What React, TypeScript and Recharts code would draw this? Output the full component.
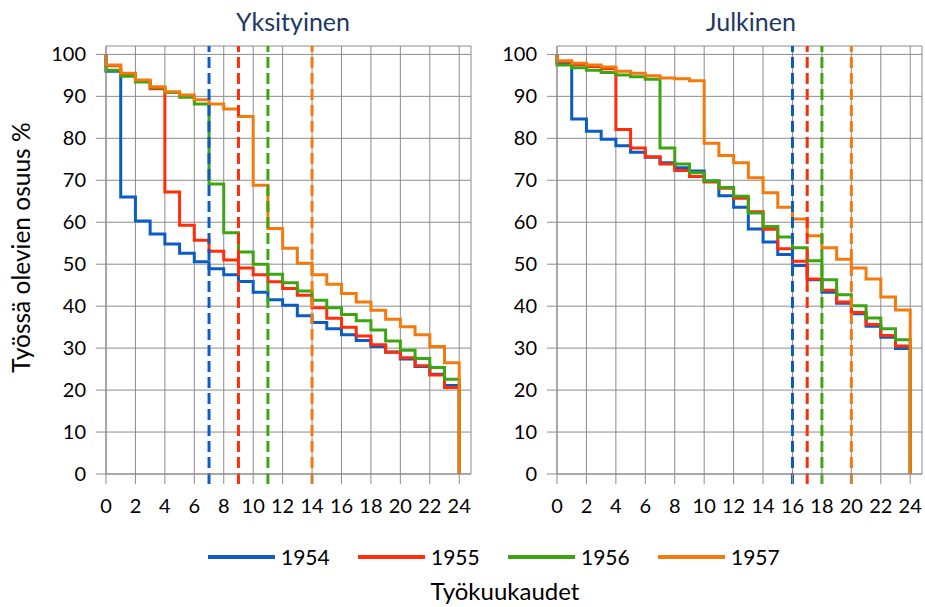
import { LineChart, Line, XAxis, YAxis, CartesianGrid, ReferenceLine } from 'recharts';

// share still at work (%) for each month interval [m, m+1), months 0..23
const years = ['1954', '1955', '1956', '1957'];
const colors = ['#0b5cc4', '#ff2d0a', '#3da512', '#f47a0e'];

const privateShare1954 = [96.0, 66.0, 60.3, 57.2, 54.8, 52.6, 50.6, 48.9, 47.5, 45.9, 43.3, 41.5, 40.2, 37.7, 36.1, 34.6, 33.2, 31.8, 30.4, 29.1, 27.4, 25.6, 23.8, 21.1];
const privateShare1955 = [97.3, 95.3, 93.6, 91.8, 67.2, 59.3, 55.7, 53.1, 51.0, 49.1, 47.5, 45.8, 44.2, 42.6, 39.6, 37.1, 35.0, 32.9, 30.8, 29.0, 27.7, 25.8, 23.6, 20.6];
const privateShare1956 = [96.2, 94.8, 93.4, 92.1, 90.9, 89.8, 88.2, 69.1, 57.5, 52.9, 50.0, 47.6, 45.6, 43.6, 41.4, 39.6, 38.0, 36.5, 34.3, 31.7, 29.5, 27.5, 25.4, 22.6];
const privateShare1957 = [97.5, 95.5, 93.9, 92.3, 91.1, 90.3, 89.2, 88.2, 87.0, 85.2, 68.8, 58.5, 53.8, 50.2, 47.5, 45.2, 43.0, 41.0, 39.0, 36.9, 35.1, 33.2, 30.4, 26.5];

const publicShare1954 = [97.8, 84.6, 81.7, 79.8, 78.2, 76.7, 75.5, 74.2, 73.0, 72.2, 69.8, 66.3, 63.6, 58.4, 55.3, 52.3, 49.7, 46.3, 43.3, 40.7, 38.2, 35.2, 32.6, 29.9];
const publicShare1955 = [98.3, 97.6, 97.1, 96.6, 82.1, 77.7, 75.6, 73.9, 72.3, 70.9, 69.6, 68.1, 65.7, 62.5, 58.3, 53.7, 50.7, 46.5, 43.8, 41.0, 38.5, 35.6, 33.0, 30.5];
const publicShare1956 = [97.5, 96.8, 96.2, 95.7, 95.1, 94.7, 94.1, 77.7, 73.9, 71.8, 69.8, 68.3, 66.2, 62.2, 59.0, 56.5, 53.9, 50.8, 46.3, 42.7, 40.1, 37.2, 34.6, 32.0];
const publicShare1957 = [98.5, 97.9, 97.5, 97.0, 96.0, 95.5, 94.9, 94.4, 94.2, 93.7, 78.8, 75.9, 74.2, 70.6, 67.0, 63.6, 60.8, 56.8, 53.9, 51.2, 49.1, 46.5, 42.2, 39.1];

// dashed markers (month) per year
const privateMarkers = [7, 9, 11, 14];
const publicMarkers = [16, 17, 18, 20];

const startShare = 100;
const endShare = 0;
const lastMonth = 24;
const xTicks = [0, 2, 4, 6, 8, 10, 12, 14, 16, 18, 20, 22, 24];
const yTicks = [0, 10, 20, 30, 40, 50, 60, 70, 80, 90, 100];

type Row = { m: number; [key: string]: number };

function buildRows(series: number[][]): Row[] {
    const row = (m: number, pick: (s: number[]) => number) => {
        const r: Row = { m };
        years.forEach((y, k) => { r['y' + y] = pick(series[k]); });
        return r;
    };
    const rows: Row[] = [row(0, () => startShare)];
    for (let i = 0; i < lastMonth; i++) rows.push(row(i, s => s[i]));
    rows.push(row(lastMonth, s => s[lastMonth - 1]));
    rows.push(row(lastMonth, () => endShare));
    return rows;
}

const privateRows = buildRows([privateShare1954, privateShare1955, privateShare1956, privateShare1957]);
const publicRows = buildRows([publicShare1954, publicShare1955, publicShare1956, publicShare1957]);

const FONT = 'Lato, "Open Sans", sans-serif';
const GRID = '#8c8c8c';

function Panel({ data, markers, width, right }: { data: Row[]; markers: number[]; width: number; right: number }) {
    return (
        <LineChart width={width} height={530} data={data} margin={{ top: 46, right, bottom: 0, left: 0 }}>
            <CartesianGrid stroke={GRID} />
            <XAxis
                type="number"
                dataKey="m"
                domain={[0, 24.8]}
                ticks={xTicks}
                interval={0}
                height={56}
                tickSize={10}
                tickMargin={15}
                axisLine={{ stroke: GRID }}
                tickLine={{ stroke: GRID }}
                tick={{ fontSize: 20, fill: '#000', fontFamily: FONT }}
            />
            <YAxis
                type="number"
                domain={[0, 102]}
                ticks={yTicks}
                interval={0}
                width={106}
                tickSize={10}
                tickMargin={10}
                axisLine={{ stroke: GRID }}
                tickLine={{ stroke: GRID }}
                tick={{ fontSize: 20, fill: '#000', fontFamily: FONT }}
            />
            {years.map((y, k) => (
                <Line
                    key={y}
                    type="stepAfter"
                    dataKey={'y' + y}
                    stroke={colors[k]}
                    strokeWidth={3}
                    dot={false}
                    activeDot={false}
                    isAnimationActive={false}
                />
            ))}
            {markers.map((x, k) => (
                <ReferenceLine
                    key={'m' + k}
                    segment={[{ x, y: -2.4 }, { x, y: 102 }]}
                    stroke={colors[k]}
                    strokeWidth={3}
                    strokeDasharray="11 5"
                    ifOverflow="visible"
                />
            ))}
        </LineChart>
    );
}

export default function App() {
    return (
        <div style={{ position: 'absolute', left: 0, top: 0, width: 925, height: 607, background: '#fff', fontFamily: FONT, overflow: 'hidden' }}>
            <div style={{ position: 'absolute', left: 0, top: 0 }}>
                <Panel data={privateRows} markers={privateMarkers} width={480} right={9} />
            </div>
            <div style={{ position: 'absolute', left: 451, top: 0 }}>
                <Panel data={publicRows} markers={publicMarkers} width={474} right={3} />
            </div>
            <div style={{ position: 'absolute', left: 193, top: 9, width: 200, textAlign: 'center', fontSize: 25, lineHeight: '25px', color: '#203864' }}>
                Yksityinen
            </div>
            <div style={{ position: 'absolute', left: 651, top: 9, width: 200, textAlign: 'center', fontSize: 25, lineHeight: '25px', color: '#203864' }}>
                Julkinen
            </div>
            <div style={{ position: 'absolute', left: -130, top: 235, width: 300, textAlign: 'center', fontSize: 24.5, lineHeight: '25px', color: '#000', transform: 'rotate(-90deg)' }}>
                Työssä olevien osuus %
            </div>
            <div style={{ position: 'absolute', left: 208, top: 545, display: 'flex' }}>
                {years.map((y, k) => (
                    <div key={y} style={{ width: 150, display: 'flex', alignItems: 'center' }}>
                        <span style={{ display: 'inline-block', width: 67, height: 4, background: colors[k], marginRight: 6 }} />
                        <span style={{ fontSize: 21, lineHeight: '24px', color: '#000' }}>{y}</span>
                    </div>
                ))}
            </div>
            <div style={{ position: 'absolute', left: 355, top: 578, width: 300, textAlign: 'center', fontSize: 24, lineHeight: '25px', color: '#000' }}>
                Työkuukaudet
            </div>
        </div>
    );
}
